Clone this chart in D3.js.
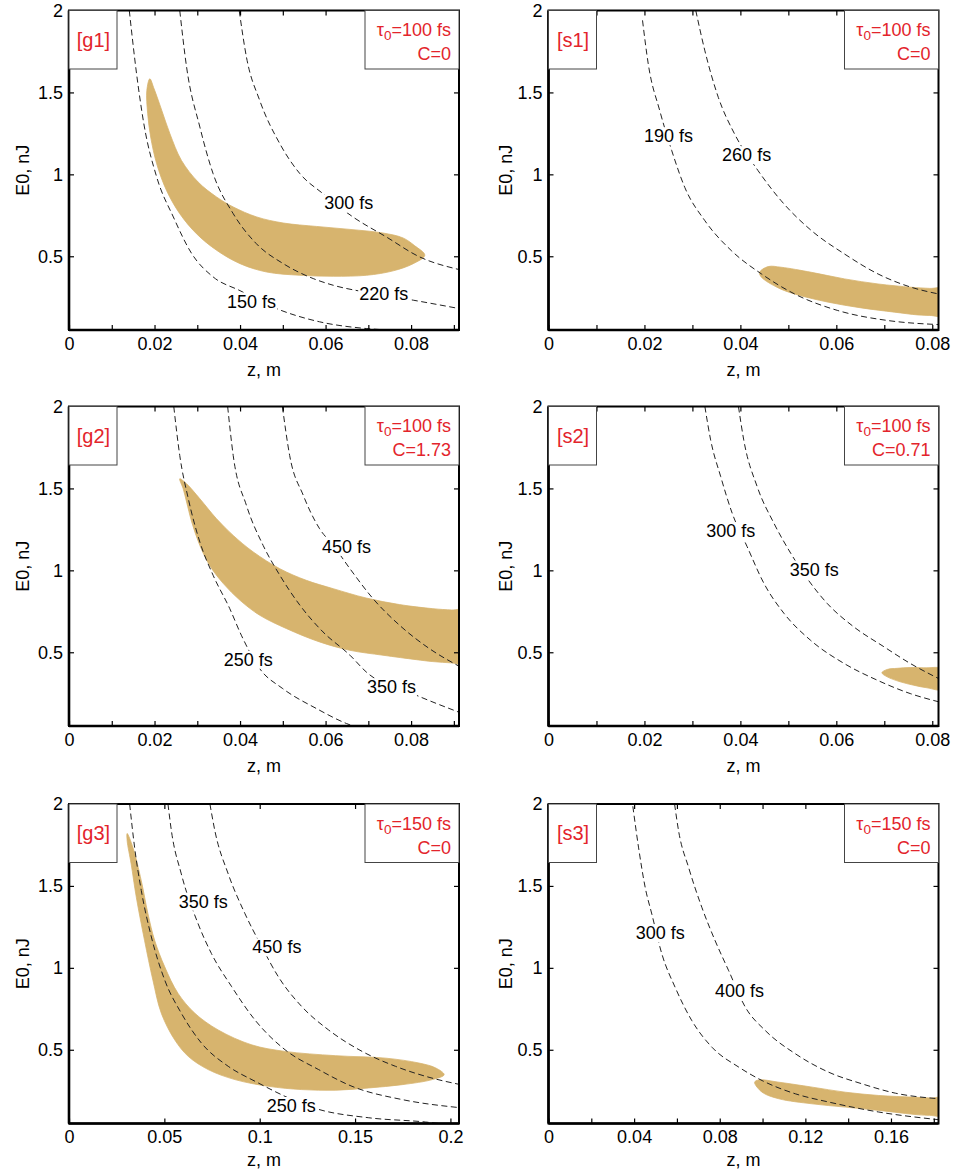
<!DOCTYPE html>
<html><head><meta charset="utf-8">
<script src="https://cdn.jsdelivr.net/npm/d3@7"></script>
<style>body{margin:0;background:#fff}</style>
</head><body><svg id="c" width="956" height="1172"></svg>
<script>
// ---------- shared axis data ----------
const yDomain = [0.05, 2];
const yTicks = [0.5, 1, 1.5, 2];
const yTickLabels = ["0.5", "1", "1.5", "2"];

const xTicksG = [0, 0.01, 0.02, 0.03, 0.04, 0.05, 0.06, 0.07, 0.08, 0.09];
const xTickLabelsG = ["0", "", "0.02", "", "0.04", "", "0.06", "", "0.08", ""];
const xTicksS = [0, 0.01, 0.02, 0.03, 0.04, 0.05, 0.06, 0.07, 0.08];
const xTickLabelsS = ["0", "", "0.02", "", "0.04", "", "0.06", "", "0.08"];
const xTicksG3 = [0, 0.05, 0.1, 0.15, 0.2];
const xTickLabelsG3 = ["0", "0.05", "0.1", "0.15", "0.2"];
const xTicksS3 = [0, 0.02, 0.04, 0.06, 0.08, 0.1, 0.12, 0.14, 0.16, 0.18];
const xTickLabelsS3 = ["0", "", "0.04", "", "0.08", "", "0.12", "", "0.16", ""];

// ---------- panel g1 ----------
const g1Curve150 = [[0.0141,2.0],[0.0158,1.614],[0.0175,1.309],[0.0205,0.984],[0.0244,0.74],[0.0287,0.516],[0.0337,0.374],[0.040,0.29],[0.0485,0.181],[0.0586,0.10],[0.0695,0.059],[0.0745,0.05]];
const g1Curve220 = [[0.0259,2.0],[0.0275,1.654],[0.0306,1.289],[0.0337,1.004],[0.0384,0.76],[0.0438,0.577],[0.0501,0.455],[0.0571,0.364],[0.0618,0.323],[0.0695,0.28],[0.0805,0.232],[0.0912,0.181]];
const g1Curve300 = [[0.0398,2.0],[0.0415,1.715],[0.0446,1.451],[0.0493,1.187],[0.054,1.004],[0.0594,0.882],[0.0664,0.74],[0.0742,0.618],[0.082,0.496],[0.0912,0.419]];
const g1Region = [[0.0189,1.583],[0.0199,1.522],[0.0217,1.39],[0.0236,1.248],[0.0263,1.085],[0.0302,0.953],[0.0345,0.862],[0.0384,0.801],[0.0439,0.74],[0.0501,0.703],[0.0579,0.682],[0.0657,0.664],[0.0734,0.642],[0.0781,0.612],[0.0808,0.565],[0.0832,0.506],
  [0.0805,0.455],[0.0758,0.411],[0.0696,0.384],[0.0618,0.378],[0.054,0.384],[0.0462,0.404],[0.040,0.455],[0.0345,0.537],[0.0298,0.638],[0.0259,0.76],[0.0228,0.902],[0.0205,1.065],[0.0191,1.228],[0.0184,1.37],[0.0182,1.512]];
const g1LabelText = ["150 fs", "220 fs", "300 fs"];
const g1LabelPos = [[0.0427,0.226],[0.0736,0.272],[0.0654,0.825]];

// ---------- panel s1 ----------
const s1Curve190 = [[0.0196,1.94],[0.0208,1.673],[0.0232,1.388],[0.0257,1.144],[0.0284,0.921],[0.0326,0.717],[0.0381,0.535],[0.0444,0.392],[0.0513,0.27],[0.0603,0.169],[0.0707,0.108],[0.0813,0.083]];
const s1Curve260 = [[0.0307,2.0],[0.0326,1.754],[0.0354,1.47],[0.0388,1.246],[0.0437,1.022],[0.0485,0.839],[0.0548,0.657],[0.0617,0.514],[0.0687,0.392],[0.0756,0.311],[0.0813,0.27]];
const s1Region = [[0.044,0.402],[0.0458,0.437],[0.0485,0.433],[0.0548,0.402],[0.0617,0.362],[0.0687,0.331],[0.0756,0.311],[0.0795,0.304],[0.0825,0.301],
  [0.0825,0.138],[0.0795,0.139],[0.077,0.142],[0.0721,0.159],[0.0652,0.185],[0.0583,0.22],[0.0513,0.27],[0.0479,0.307],[0.0444,0.372]];
const s1LabelText = ["190 fs", "260 fs"];
const s1LabelPos = [[0.025,1.236],[0.0413,1.12]];

// ---------- panel g2 ----------
const g2Curve250 = [[0.0245,2.0],[0.0259,1.701],[0.0279,1.437],[0.0306,1.173],[0.0337,0.97],[0.0376,0.766],[0.0403,0.604],[0.0446,0.40],[0.050,0.278],[0.0579,0.156],[0.0649,0.065],[0.0664,0.05]];
const g2Curve350 = [[0.0371,2.0],[0.0384,1.701],[0.0415,1.396],[0.0454,1.152],[0.0493,0.97],[0.054,0.787],[0.0594,0.624],[0.0657,0.482],[0.0695,0.38],[0.0812,0.238],[0.0912,0.134]];
const g2Curve450 = [[0.0499,2.0],[0.0516,1.701],[0.0548,1.457],[0.0586,1.254],[0.0618,1.152],[0.0657,1.01],[0.0711,0.827],[0.0773,0.665],[0.0843,0.522],[0.0912,0.415]];
const g2Region = [[0.0259,1.559],[0.0275,1.528],[0.0306,1.437],[0.0345,1.315],[0.0384,1.213],[0.0431,1.112],[0.0493,1.01],[0.0555,0.939],[0.0618,0.888],[0.0695,0.831],[0.0773,0.791],[0.0851,0.766],[0.0895,0.758],[0.093,0.755],
  [0.093,0.429],[0.0895,0.435],[0.0851,0.443],[0.0812,0.455],[0.0734,0.482],[0.0657,0.512],[0.0586,0.563],[0.0509,0.644],[0.0446,0.726],[0.040,0.817],[0.0361,0.919],[0.0329,1.03],[0.0306,1.152],[0.0287,1.295],[0.0275,1.417],[0.0267,1.498]];
const g2LabelText = ["250 fs", "350 fs", "450 fs"];
const g2LabelPos = [[0.0419,0.457],[0.0754,0.289],[0.0649,1.146]];

// ---------- panel s2 ----------
const s2Curve300 = [[0.0326,2.0],[0.0338,1.796],[0.0359,1.572],[0.0383,1.348],[0.0414,1.145],[0.0449,0.921],[0.0491,0.737],[0.0546,0.574],[0.0616,0.432],[0.0685,0.33],[0.0754,0.248],[0.0813,0.198]];
const s2Curve350 = [[0.0396,2.0],[0.0407,1.796],[0.0435,1.511],[0.047,1.287],[0.0505,1.104],[0.0581,0.798],[0.0636,0.656],[0.0699,0.534],[0.0754,0.432],[0.0813,0.34]];
const s2Region = [[0.0695,0.375],[0.0706,0.395],[0.0727,0.402],[0.0754,0.407],[0.0782,0.405],[0.0825,0.395],
  [0.0825,0.273],[0.0789,0.283],[0.0761,0.299],[0.0733,0.320],[0.0706,0.350]];
const s2LabelText = ["300 fs", "350 fs"];
const s2LabelPos = [[0.038,1.242],[0.0554,1.008]];

// ---------- panel g3 ----------
const g3Curve250 = [[0.0318,2.0],[0.0344,1.735],[0.0379,1.472],[0.0432,1.188],[0.0502,0.925],[0.0589,0.723],[0.0695,0.54],[0.0835,0.399],[0.0975,0.308],[0.1309,0.136],[0.1572,0.085],[0.187,0.059],[0.194,0.05]];
const g3Curve350 = [[0.0519,2.0],[0.0537,1.836],[0.0589,1.573],[0.0677,1.269],[0.0747,1.087],[0.0853,0.885],[0.0975,0.682],[0.1133,0.5],[0.1309,0.379],[0.1484,0.277],[0.1747,0.196],[0.2054,0.146]];
const g3Curve450 = [[0.0739,2.0],[0.0765,1.836],[0.0835,1.573],[0.0923,1.33],[0.1011,1.128],[0.1098,0.945],[0.1221,0.763],[0.1361,0.621],[0.1537,0.49],[0.1712,0.399],[0.1888,0.332],[0.2054,0.287]];
const g3Region = [[0.0305,1.82],[0.0335,1.735],[0.0379,1.532],[0.0414,1.33],[0.0449,1.168],[0.0502,1.006],[0.0572,0.844],[0.066,0.723],[0.0782,0.621],[0.0958,0.53],[0.1133,0.49],[0.1396,0.464],[0.166,0.449],[0.1835,0.419],[0.1923,0.389],[0.1967,0.348],
  [0.1905,0.318],[0.1747,0.287],[0.1572,0.267],[0.1396,0.253],[0.1221,0.257],[0.1046,0.277],[0.087,0.318],[0.073,0.379],[0.0625,0.46],[0.0554,0.561],[0.0484,0.723],[0.044,0.925],[0.0396,1.168],[0.0353,1.431],[0.0326,1.634],[0.0305,1.775]];
const g3LabelText = ["250 fs", "350 fs", "450 fs"];
const g3LabelPos = [[0.1165,0.16],[0.0704,1.407],[0.109,1.128]];

// ---------- panel s3 ----------
const s3Curve300 = [[0.0394,1.986],[0.0421,1.732],[0.0452,1.489],[0.0483,1.327],[0.053,1.083],[0.0592,0.88],[0.067,0.677],[0.0764,0.515],[0.0889,0.394],[0.0998,0.312],[0.1154,0.231],[0.1309,0.181],[0.1543,0.12],[0.1824,0.073]];
const s3Curve400 = [[0.0589,2.0],[0.0608,1.834],[0.0655,1.611],[0.0717,1.367],[0.0779,1.164],[0.0842,0.982],[0.092,0.759],[0.1013,0.617],[0.1154,0.475],[0.1309,0.363],[0.1465,0.292],[0.1621,0.235],[0.1824,0.201]];
const s3Region = [[0.0963,0.302],[0.0982,0.316],[0.1076,0.302],[0.1232,0.272],[0.1387,0.241],[0.1543,0.221],[0.1699,0.211],[0.1780,0.206],[0.185,0.203],
  [0.185,0.099],[0.1780,0.100],[0.173,0.103],[0.1543,0.13],[0.1387,0.15],[0.1232,0.17],[0.1076,0.201],[0.0998,0.241]];
const s3LabelText = ["300 fs", "400 fs"];
const s3LabelPos = [[0.0522,1.213],[0.0892,0.86]];

// ---------- panel tags ----------
const panelIds = ["[g1]", "[s1]", "[g2]", "[s2]", "[g3]", "[s3]"];
const panelTau = ["100", "100", "100", "100", "150", "150"];
const panelChirp = ["C=0", "C=0", "C=1.73", "C=0.71", "C=0", "C=0"];

// ---------- layout ----------
const FONT = "'Liberation Sans', Arial, Helvetica, sans-serif";
const FILL = "#d7b46e";
const RED = "#e3242b";
const PW = 390, PH = 319.5;
const colLeft = [69, 548.5];
const rowTop = [10.5, 406.5, 804];
const yTitleX = [29, 512];

const panels = [
  {id: 0, col: 0, row: 0, xDomain: [0, 0.0912], xTicks: xTicksG, xLabels: xTickLabelsG, curves: [g1Curve150, g1Curve220, g1Curve300], region: g1Region, labText: g1LabelText, labPos: g1LabelPos},
  {id: 1, col: 1, row: 0, xDomain: [0, 0.0813], xTicks: xTicksS, xLabels: xTickLabelsS, curves: [s1Curve190, s1Curve260], region: s1Region, labText: s1LabelText, labPos: s1LabelPos},
  {id: 2, col: 0, row: 1, xDomain: [0, 0.0912], xTicks: xTicksG, xLabels: xTickLabelsG, curves: [g2Curve250, g2Curve350, g2Curve450], region: g2Region, labText: g2LabelText, labPos: g2LabelPos},
  {id: 3, col: 1, row: 1, xDomain: [0, 0.0813], xTicks: xTicksS, xLabels: xTickLabelsS, curves: [s2Curve300, s2Curve350], region: s2Region, labText: s2LabelText, labPos: s2LabelPos},
  {id: 4, col: 0, row: 2, xDomain: [0, 0.2045], xTicks: xTicksG3, xLabels: xTickLabelsG3, curves: [g3Curve250, g3Curve350, g3Curve450], region: g3Region, labText: g3LabelText, labPos: g3LabelPos},
  {id: 5, col: 1, row: 2, xDomain: [0, 0.1822], xTicks: xTicksS3, xLabels: xTickLabelsS3, curves: [s3Curve300, s3Curve400], region: s3Region, labText: s3LabelText, labPos: s3LabelPos}
];

const svg = d3.select("#c");
svg.append("rect").attr("width", 956).attr("height", 1172).attr("fill", "#fff");

panels.forEach(p => {
  const left = colLeft[p.col], top = rowTop[p.row];
  const x = d3.scaleLinear().domain(p.xDomain).range([left, left + PW]);
  const y = d3.scaleLinear().domain(yDomain).range([top + PH, top]);
  const g = svg.append("g");
  const cid = "clip" + p.id;
  svg.append("clipPath").attr("id", cid).append("rect")
    .attr("x", left).attr("y", top).attr("width", PW).attr("height", PH);
  const plot = g.append("g").attr("clip-path", `url(#${cid})`);

  plot.append("path").datum(p.region)
    .attr("d", d3.line().x(d => x(d[0])).y(d => y(d[1])).curve(d3.curveCatmullRomClosed.alpha(0.5)))
    .attr("fill", FILL).attr("stroke", FILL).attr("stroke-width", 0.8);

  const line = d3.line().x(d => x(d[0])).y(d => y(d[1])).curve(d3.curveMonotoneX);
  p.curves.forEach(c => {
    plot.append("path").datum(c).attr("d", line)
      .attr("fill", "none").attr("stroke", "#222").attr("stroke-width", 1)
      .attr("stroke-dasharray", "6,3.5");
  });

  p.labText.forEach((t, i) => {
    const lg = plot.append("g");
    const txt = lg.append("text")
      .attr("x", x(p.labPos[i][0])).attr("y", y(p.labPos[i][1]))
      .attr("text-anchor", "middle").attr("dy", "0.36em")
      .attr("font-family", FONT).attr("font-size", 18).attr("fill", "#000")
      .text(t);
    const bb = txt.node().getBBox();
    lg.insert("rect", "text").attr("x", bb.x - 1).attr("y", bb.y + 1)
      .attr("width", bb.width + 2).attr("height", bb.height - 2).attr("fill", "#fff");
  });

  // axes (ticks inward)
  const ax = (a) => a.tickSizeOuter(0);
  const bottom = g.append("g").attr("transform", `translate(0,${top + PH})`)
    .call(ax(d3.axisBottom(x).tickValues(p.xTicks).tickFormat((d, i) => p.xLabels[i]).tickSizeInner(-5).tickPadding(7)));
  const leftAx = g.append("g").attr("transform", `translate(${left},0)`)
    .call(ax(d3.axisLeft(y).tickValues(yTicks).tickFormat((d, i) => yTickLabels[i]).tickSizeInner(-5).tickPadding(6)));
  const topAx = g.append("g").attr("transform", `translate(0,${top})`)
    .call(ax(d3.axisTop(x).tickValues(p.xTicks).tickFormat("").tickSizeInner(-5)));
  const rightAx = g.append("g").attr("transform", `translate(${left + PW},0)`)
    .call(ax(d3.axisRight(y).tickValues(yTicks).tickFormat("").tickSizeInner(-5)));
  [bottom, leftAx, topAx, rightAx].forEach(a => {
    a.select(".domain").remove();
    a.selectAll("line").attr("stroke", "#000").attr("stroke-width", 1.2);
    a.selectAll("text").attr("font-family", FONT).attr("font-size", 18).attr("fill", "#000");
  });

  // frame
  g.append("rect").attr("x", left).attr("y", top).attr("width", PW).attr("height", PH)
    .attr("fill", "none").attr("stroke", "#000").attr("stroke-width", 2);
  g.append("line").attr("x1", left).attr("x2", left + PW).attr("y1", top + PH).attr("y2", top + PH)
    .attr("stroke", "#000").attr("stroke-width", 2.6);
  g.append("line").attr("x1", left).attr("x2", left).attr("y1", top).attr("y2", top + PH)
    .attr("stroke", "#000").attr("stroke-width", 2.6);

  // tag boxes
  g.append("rect").attr("x", left).attr("y", top).attr("width", 48).attr("height", 58.5)
    .attr("fill", "#fff").attr("stroke", "#444").attr("stroke-width", 1);
  g.append("text").attr("x", left + 24.5).attr("y", top + 36)
    .attr("text-anchor", "middle").attr("font-family", FONT).attr("font-size", 20)
    .attr("fill", RED).text(panelIds[p.id]);
  g.append("rect").attr("x", left + PW - 94).attr("y", top).attr("width", 94).attr("height", 58.5)
    .attr("fill", "#fff").attr("stroke", "#444").attr("stroke-width", 1);
  const t1 = g.append("text").attr("x", left + PW - 8).attr("y", top + 25.5)
    .attr("text-anchor", "end").attr("font-family", FONT).attr("font-size", 18).attr("fill", RED);
  t1.append("tspan").text("τ");
  t1.append("tspan").attr("dy", 4).attr("font-size", 13.5).text("0");
  t1.append("tspan").attr("dy", -4).text("=" + panelTau[p.id] + " fs");
  g.append("text").attr("x", left + PW - 8).attr("y", top + 49.5)
    .attr("text-anchor", "end").attr("font-family", FONT).attr("font-size", 18)
    .attr("fill", RED).text(panelChirp[p.id]);

  // axis titles
  const xTitleOff = p.row === 2 ? 42 : 46;
  g.append("text").attr("x", left + PW / 2).attr("y", top + PH + xTitleOff)
    .attr("text-anchor", "middle").attr("font-family", FONT).attr("font-size", 18)
    .attr("fill", "#000").text("z, m");
  g.append("text").attr("transform", `translate(${yTitleX[p.col]},${top + PH / 2}) rotate(-90)`)
    .attr("text-anchor", "middle").attr("font-family", FONT).attr("font-size", 18)
    .attr("fill", "#000").text("E0, nJ");
});
</script></body></html>
